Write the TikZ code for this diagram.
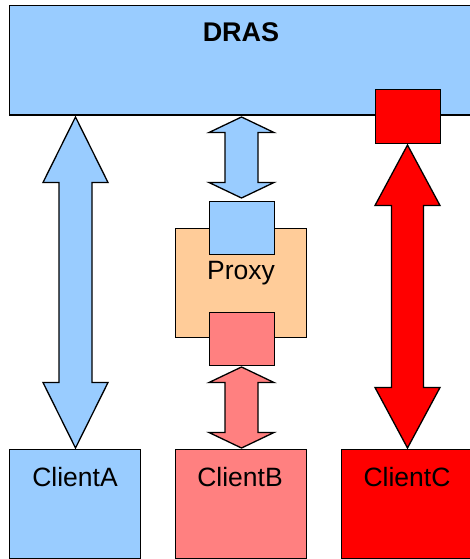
\documentclass[tikz,border=0pt]{standalone}
\usepackage{fontspec}
\setmainfont{Liberation Sans}
\definecolor{lblue}{HTML}{99CCFF}
\definecolor{lpink}{HTML}{FF8080}
\definecolor{lred}{HTML}{FF0000}
\definecolor{lorange}{HTML}{FFCC99}
\tikzset{
  box/.style={draw=black, line width=1.3pt, inner sep=0pt, anchor=north west},
  lbl/.style={font=\fontsize{26.5}{30}\selectfont, inner sep=0pt},
  barrow/.style={draw=black, line width=1.3pt, line join=miter},
}
% \blockarrow{fill}{cx}{ytop}{ybot}{head half}{shaft half}{head len}
\newcommand\blockarrow[7]{%
  \path[barrow, fill=#1]
    (#2,#3) -- ({#2+#5},{#3+#7}) -- ({#2+#6},{#3+#7}) -- ({#2+#6},{#4-#7})
    -- ({#2+#5},{#4-#7}) -- (#2,#4) -- ({#2-#5},{#4-#7}) -- ({#2-#6},{#4-#7})
    -- ({#2-#6},{#3+#7}) -- ({#2-#5},{#3+#7}) -- cycle;}
\begin{document}
\begin{tikzpicture}[x=1pt,y=-1pt]
\useasboundingbox (0,0) rectangle (470,559);
\clip (0,0) rectangle (470,559);
% DRAS
\node[box, fill=lblue, minimum width=470pt, minimum height=109.5pt] (dras) at (9,5) {};
\node[lbl, font=\fontsize{27}{30}\selectfont\bfseries] (draslbl) at (241,32) {DRAS};
\node[box, fill=lred, minimum width=65pt, minimum height=54pt] (drasc) at (375,89) {};
% Proxy
\node[box, fill=lorange, minimum width=131pt, minimum height=109pt] (proxy) at (175,228) {};
\node[lbl] (proxylbl) at (241,273) {Proxy};
\node[box, fill=lblue, minimum width=65pt, minimum height=53pt] (proxyup) at (209,201) {};
\node[box, fill=lpink, minimum width=65pt, minimum height=53pt] (proxydn) at (209,312) {};
% arrows
\blockarrow{lblue}{75.5}{117}{448}{32.5}{16.5}{65.5}
\blockarrow{lblue}{241.5}{117}{198}{32.5}{16.5}{15.5}
\blockarrow{lpink}{241.5}{367}{448}{32.5}{16.5}{15.5}
\blockarrow{lred}{407.5}{145}{448}{32.5}{16}{60.5}
% clients
\node[box, fill=lblue, minimum width=131pt, minimum height=109pt] (ca) at (9,449) {};
\node[lbl] (calbl) at (75,477) {ClientA};
\node[box, fill=lpink, minimum width=131pt, minimum height=109pt] (cb) at (175,449) {};
\node[lbl] (cblbl) at (240,477) {ClientB};
\node[box, fill=lred, minimum width=140pt, minimum height=109pt] (cc) at (341,449) {};
\node[lbl] (cclbl) at (407,477) {ClientC};
\end{tikzpicture}
\end{document}
